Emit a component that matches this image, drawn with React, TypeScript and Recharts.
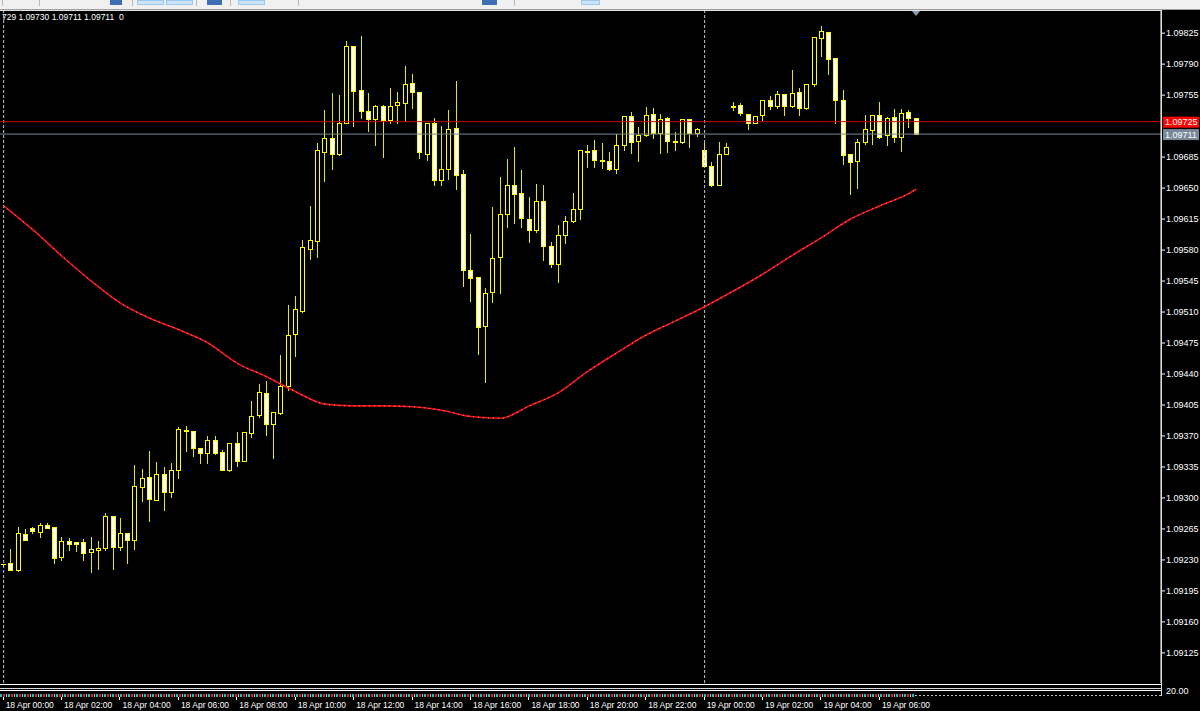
import React from 'react';
import { ComposedChart, Bar, Line, XAxis, YAxis, ReferenceLine } from 'recharts';

// EURUSD M15 candles, 18 Apr 00:00 .. 19 Apr 07:15
const opens = [
  1.09225, 1.09226, 1.09219, 1.09259, 1.09266, 1.09262, 1.0927, 1.09267, 1.09233, 1.09251,
  1.0925, 1.0925, 1.09239, 1.09241, 1.09243, 1.0928, 1.09245, 1.0926, 1.09253, 1.09312,
  1.09324, 1.09298, 1.09327, 1.09307, 1.09332, 1.09377, 1.09376, 1.09356, 1.09351, 1.09365,
  1.09352, 1.09332, 1.09362, 1.09342, 1.09373, 1.09394, 1.09419, 1.09384, 1.09396, 1.09426,
  1.09485, 1.09511, 1.09581, 1.0959, 1.09691, 1.09707, 1.09688, 1.09724, 1.09811, 1.09761,
  1.09737, 1.09728, 1.09743, 1.09727, 1.09744, 1.09746, 1.09769, 1.09759, 1.09689, 1.09723,
  1.09659, 1.09671, 1.09718, 1.09666, 1.09557, 1.09549, 1.09494, 1.09533, 1.09572, 1.09621,
  1.09653, 1.09644, 1.09615, 1.09603, 1.09635, 1.09585, 1.09564, 1.09597, 1.09613, 1.09626,
  1.09691, 1.09693, 1.09682, 1.09681, 1.09672, 1.09699, 1.09731, 1.09703, 1.0971, 1.09734,
  1.09712, 1.09729, 1.09703, 1.09702, 1.09728, 1.09712, 1.09693, 1.09675, 1.09654, 1.09688,
  1.09743, 1.09744, 1.09734, 1.09724, 1.09733, 1.09749, 1.09743, 1.09756, 1.09743, 1.09758,
  1.0974, 1.09767, 1.0982, 1.09826, 1.09797, 1.0975, 1.09689, 1.09681, 1.09702, 1.09716,
  1.09732, 1.0971, 1.0973, 1.09708, 1.09736, 1.09729,
];
const highs = [
  1.09227, 1.09243, 1.09268, 1.09266, 1.09268, 1.09273, 1.09273, 1.09268, 1.09257, 1.09256,
  1.0925, 1.09255, 1.09257, 1.09252, 1.09284, 1.0928, 1.09278, 1.09262, 1.09338, 1.09334,
  1.09354, 1.09342, 1.09336, 1.09341, 1.09381, 1.09382, 1.09377, 1.09357, 1.09371, 1.09371,
  1.09355, 1.09362, 1.09376, 1.09376, 1.09411, 1.0943, 1.09433, 1.09397, 1.09463, 1.09519,
  1.09529, 1.09593, 1.09631, 1.09702, 1.09739, 1.09758, 1.09756, 1.09817, 1.09812, 1.09823,
  1.09758, 1.09745, 1.09745, 1.09764, 1.0976, 1.09789, 1.0978, 1.09759, 1.09724, 1.0973,
  1.09721, 1.09739, 1.09772, 1.09671, 1.09599, 1.09549, 1.09538, 1.0963, 1.09664, 1.09684,
  1.09697, 1.09672, 1.09641, 1.09656, 1.09655, 1.0959, 1.09609, 1.0962, 1.09646, 1.09694,
  1.097, 1.09705, 1.09702, 1.09692, 1.09712, 1.09733, 1.09737, 1.0972, 1.09743, 1.09742,
  1.09735, 1.09731, 1.09714, 1.09729, 1.09728, 1.09719, 1.09702, 1.09681, 1.09703, 1.09702,
  1.09748, 1.09747, 1.09735, 1.09732, 1.09751, 1.09755, 1.09761, 1.09756, 1.09784, 1.09764,
  1.09769, 1.09822, 1.09834, 1.09827, 1.09797, 1.09762, 1.0969, 1.09706, 1.09734, 1.09734,
  1.09748, 1.09731, 1.09741, 1.09741, 1.09739, 1.0973,
];
const lows = [
  1.09223, 1.09219, 1.09218, 1.09252, 1.0926, 1.09256, 1.09266, 1.09227, 1.0923, 1.09241,
  1.0924, 1.0923, 1.09216, 1.0922, 1.09241, 1.0922, 1.09241, 1.09227, 1.09242, 1.09297,
  1.09274, 1.09298, 1.09286, 1.09301, 1.09323, 1.09353, 1.09347, 1.09339, 1.09339, 1.0935,
  1.09332, 1.09331, 1.09336, 1.09342, 1.09369, 1.09392, 1.09371, 1.09345, 1.09395, 1.09422,
  1.0946, 1.0951, 1.0957, 1.09572, 1.09658, 1.09672, 1.09687, 1.09723, 1.0972, 1.09729,
  1.09715, 1.09699, 1.09685, 1.09724, 1.09724, 1.09726, 1.0974, 1.09684, 1.09682, 1.09653,
  1.09653, 1.0966, 1.09649, 1.09539, 1.09522, 1.09463, 1.09431, 1.09521, 1.09532, 1.09606,
  1.09611, 1.09606, 1.09589, 1.096, 1.09569, 1.09561, 1.09544, 1.09588, 1.09612, 1.09615,
  1.09674, 1.09674, 1.09673, 1.0967, 1.09667, 1.09693, 1.0969, 1.09681, 1.09709, 1.09706,
  1.0969, 1.09691, 1.09693, 1.09701, 1.09696, 1.09709, 1.09675, 1.09652, 1.09654, 1.09688,
  1.09738, 1.09732, 1.09717, 1.09723, 1.09727, 1.09739, 1.09741, 1.09732, 1.09742, 1.09732,
  1.09739, 1.09765, 1.09799, 1.09779, 1.09723, 1.09677, 1.09643, 1.0965, 1.097, 1.097,
  1.09707, 1.09699, 1.09702, 1.09692, 1.09719, 1.09711,
];
const closes = [
  1.09225, 1.09219, 1.0926, 1.09253, 1.09263, 1.0927, 1.09266, 1.09232, 1.09251, 1.09248,
  1.09248, 1.09238, 1.09242, 1.09244, 1.0928, 1.09245, 1.0926, 1.09253, 1.09313, 1.09323,
  1.09299, 1.09327, 1.09307, 1.09332, 1.09378, 1.09376, 1.09356, 1.09351, 1.09365, 1.09351,
  1.09332, 1.09362, 1.09342, 1.09375, 1.09393, 1.0942, 1.09384, 1.09397, 1.09426, 1.09484,
  1.09513, 1.09583, 1.09591, 1.09693, 1.09707, 1.09688, 1.09724, 1.09811, 1.0976, 1.09737,
  1.09728, 1.09743, 1.09727, 1.09743, 1.09747, 1.09768, 1.09758, 1.09691, 1.09724, 1.09659,
  1.09672, 1.09717, 1.09665, 1.09558, 1.09548, 1.09493, 1.09532, 1.09571, 1.09621, 1.09653,
  1.09643, 1.09616, 1.09603, 1.09635, 1.09585, 1.09564, 1.09597, 1.09613, 1.09626, 1.09693,
  1.09692, 1.09682, 1.09681, 1.09672, 1.09699, 1.09731, 1.09702, 1.0971, 1.09733, 1.09712,
  1.09728, 1.09703, 1.09702, 1.09728, 1.09712, 1.09717, 1.09675, 1.09653, 1.09689, 1.09696,
  1.09742, 1.09735, 1.09724, 1.09731, 1.0975, 1.09743, 1.09756, 1.09743, 1.09757, 1.0974,
  1.09768, 1.09821, 1.09827, 1.09796, 1.09749, 1.09687, 1.0968, 1.09702, 1.09717, 1.09732,
  1.09708, 1.09729, 1.09708, 1.09735, 1.09729, 1.09711,
];

// moving average (red dotted line), read at every 4th bar
const maIdx = [0, 4, 8, 12, 16, 20, 24, 28, 32, 36, 40, 44, 48, 52, 56, 60, 64, 68, 72, 76, 80, 84, 88, 92, 96, 100, 104, 108, 112, 116, 120, 124, 125];
const maVals = [
  1.0963, 1.09603, 1.09573, 1.09545, 1.0952, 1.09503, 1.0949, 1.09475, 1.09452, 1.09437,
  1.0942, 1.09406, 1.09404, 1.09404, 1.09403, 1.09399, 1.09392, 1.0939, 1.09404, 1.09419,
  1.09443, 1.09464, 1.09484, 1.095, 1.09516, 1.09534, 1.09553, 1.09574, 1.09594, 1.09615,
  1.0963, 1.09644, 1.09649,
];

const timeLabels = [
  '18 Apr 00:00', '18 Apr 02:00', '18 Apr 04:00', '18 Apr 06:00', '18 Apr 08:00', '18 Apr 10:00',
  '18 Apr 12:00', '18 Apr 14:00', '18 Apr 16:00', '18 Apr 18:00', '18 Apr 20:00', '18 Apr 22:00',
  '19 Apr 00:00', '19 Apr 02:00', '19 Apr 04:00', '19 Apr 06:00',
];
const barsPerLabel = 8;

const yTicks = [
  1.09125, 1.0916, 1.09195, 1.0923, 1.09265, 1.093, 1.09335, 1.0937, 1.09405, 1.0944,
  1.09475, 1.0951, 1.09545, 1.0958, 1.09615, 1.0965, 1.09685, 1.09755, 1.0979, 1.09825,
];
const yDomain = [1.09091, 1.0985];
const askPrice = 1.09725;
const bidPrice = 1.09711;
const daySeparators = [0, 96];
const totalSlots = 159; // chart keeps empty space to the right of the last bar
const headerText = '729 1.09730 1.09711 1.09711  0';

const rows = Array.from({ length: totalSlots }, (_, i) => {
  const has = i < opens.length;
  const m = maIdx.indexOf(i);
  return {
    idx: i,
    o: has ? opens[i] : null,
    h: has ? highs[i] : null,
    l: has ? lows[i] : null,
    c: has ? closes[i] : null,
    range: has ? [lows[i], highs[i]] : null,
    ma: m >= 0 ? maVals[m] : null,
    t: i % barsPerLabel === 0 ? timeLabels[i / barsPerLabel] || '' : '',
  };
});

const FONT = '"Liberation Sans", Arial, sans-serif';
const YEL = '#ffff00';

const Candle = (props: any) => {
  const { x, y, width, height, payload } = props;
  if (!payload || payload.o == null) return null;
  const { o, h, l, c } = payload;
  const top = Math.min(y, y + height);
  const hgt = Math.abs(height);
  const span = h - l;
  const py = (v: number) => (span > 0 ? top + ((h - v) / span) * hgt : top);
  const cx = Math.round(x + width / 2 - 0.5) + 0.5;
  const yH = Math.round(py(h)) + 0.5;
  const yL = Math.round(py(l)) + 0.5;
  const bTop = Math.round(py(Math.max(o, c))) + 0.5;
  const bBot = Math.round(py(Math.min(o, c))) + 0.5;
  const bull = c > o;
  return (
    <g shapeRendering="crispEdges">
      <line x1={cx} x2={cx} y1={yH} y2={yL} stroke="#e8e800" strokeWidth={1} />
      {bBot - bTop < 1 ? (
        <line x1={cx - 2.5} x2={cx + 2.5} y1={bTop} y2={bTop} stroke={YEL} strokeWidth={1} />
      ) : (
        <rect x={cx - 2} y={bTop} width={4} height={bBot - bTop} fill={bull ? '#000' : '#fff'} stroke={YEL} strokeWidth={1} />
      )}
    </g>
  );
};

const TimeTick = (props: any) => {
  const { x, y, payload } = props;
  const row = rows[payload.value];
  if (!row || !row.t) return null;
  const tx = Math.round(x) - 0.5;
  return (
    <g>
      <line x1={tx} x2={tx} y1={y + 14} y2={y + 17} stroke="#fff" strokeWidth={1} shapeRendering="crispEdges" />
      <text x={x + 2} y={y + 25} fill="#fff" fontSize={8.5} fontFamily={FONT}>
        {row.t}
      </text>
    </g>
  );
};

const PriceTag = (color: string, text: string, textColor: string) => (props: any) => {
  const vb = props.viewBox || {};
  const x0 = (vb.x || 0) + (vb.width || 0) + 2;
  const yy = vb.y || 0;
  return (
    <g>
      <rect x={x0} y={yy - 5} width={36} height={11} fill={color} />
      <text x={x0 + 2} y={yy + 3.5} fill={textColor} fontSize={9} fontFamily={FONT}>
        {text}
      </text>
    </g>
  );
};

const toolbarBlocks = [
  { l: 110, w: 12, c: '#3d6fb5' },
  { l: 137, w: 27, c: '#cce4f7' },
  { l: 166, w: 27, c: '#cce4f7' },
  { l: 207, w: 15, c: '#3d6fb5' },
  { l: 238, w: 27, c: '#cce4f7' },
  { l: 482, w: 15, c: '#3d6fb5' },
  { l: 581, w: 19, c: '#cce4f7' },
];
const toolbarSeps = [2, 39, 132, 196, 230, 298, 514];

export default function App() {
  return (
    <div style={{ position: 'relative', width: 1200, height: 711, background: '#000', overflow: 'hidden' }}>
      <style>{`body{margin:0;background:#000}`}</style>
      <ComposedChart width={1200} height={711} data={rows} margin={{ top: 11, right: 0, bottom: 0, left: 0 }}>
        <XAxis
          dataKey="idx"
          type="category"
          height={28}
          interval={0}
          tickSize={0}
          tickMargin={0}
          axisLine={false}
          tickLine={false}
          tick={<TimeTick />}
        />
        <YAxis
          orientation="right"
          type="number"
          width={39}
          domain={yDomain}
          ticks={yTicks}
          interval={0}
          allowDataOverflow
          tickSize={4}
          tickMargin={1}
          tickLine={{ stroke: '#fff' }}
          axisLine={{ stroke: '#fff' }}
          tick={{ fill: '#fff', fontSize: 9, fontFamily: FONT }}
          tickFormatter={(v: number) => v.toFixed(5)}
        />
        {daySeparators.map((d) => (
          <ReferenceLine key={d} x={d} stroke="#c8c8c8" strokeDasharray="3 2" strokeWidth={1} />
        ))}
        <ReferenceLine y={bidPrice} stroke="#778899" strokeWidth={1} label={PriceTag('#778899', bidPrice.toFixed(5), '#ffffff')} />
        <ReferenceLine y={askPrice} stroke="#d00000" strokeWidth={1} label={PriceTag('#ff0000', askPrice.toFixed(5), '#ffffff')} />
        <Bar dataKey="range" barSize={5} shape={<Candle />} isAnimationActive={false} />
        <Line type="monotone" dataKey="ma" stroke="#f01010" strokeWidth={1.6} dot={false} connectNulls isAnimationActive={false} />
        <Line type="monotone" dataKey="ma" stroke="#ffa0a0" strokeWidth={1} strokeDasharray="1 4" dot={false} connectNulls isAnimationActive={false} />
      </ComposedChart>

      {/* toolbar strip */}
      <div style={{ position: 'absolute', left: 0, top: 0, width: 1200, height: 9, background: '#f0f0f0' }} />
      {toolbarBlocks.map((b, i) => (
        <div key={i} style={{ position: 'absolute', left: b.l, top: 0, width: b.w, height: 5, background: b.c, border: b.c === '#cce4f7' ? '1px solid #99c9ef' : 'none', boxSizing: 'border-box' }} />
      ))}
      {toolbarSeps.map((s, i) => (
        <div key={i} style={{ position: 'absolute', left: s, top: 0, width: 1, height: 6, background: '#b8b8b8' }} />
      ))}
      <div style={{ position: 'absolute', left: 0, top: 9, width: 1200, height: 1, background: '#a0a0a0' }} />
      <div style={{ position: 'absolute', left: 0, top: 10, width: 1162, height: 1, background: '#e0e0e0' }} />
      <div style={{ position: 'absolute', left: 1161, top: 10, width: 1, height: 686, background: '#e0e0e0' }} />
      {/* chart shift marker */}
      <div style={{ position: 'absolute', left: 912, top: 11, width: 0, height: 0, borderLeft: '4px solid transparent', borderRight: '4px solid transparent', borderTop: '5px solid #8c9cac' }} />
      {/* OHLC header text */}
      <div style={{ position: 'absolute', left: 2, top: 12, color: '#fff', fontFamily: FONT, fontSize: 8.5, lineHeight: '10px', whiteSpace: 'pre' }}>
        {headerText}
      </div>
      {/* indicator sub-window strip */}
      <div style={{ position: 'absolute', left: 0, top: 684, width: 1161, height: 1, background: '#ffffff' }} />
      <div style={{ position: 'absolute', left: 0, top: 688, width: 1161, height: 1, background: '#d8d8d8' }} />
      <div style={{ position: 'absolute', left: 0, top: 690, width: 1161, height: 1, background: '#ffffff' }} />
      <div style={{ position: 'absolute', left: 0, top: 694, width: 915, height: 3, background: 'repeating-linear-gradient(90deg,#20c0c0 0 2px,#000 2px 3px,#e02020 3px 5px,#000 5px 6px,#c0c0c0 6px 7px,#000 7px 8px)' }} />
      <div style={{ position: 'absolute', left: 915, top: 695, width: 246, height: 1, background: 'repeating-linear-gradient(90deg,#c0c0c0 0 2px,#000 2px 4px)' }} />
      <div style={{ position: 'absolute', left: 1166, top: 686, color: '#fff', fontFamily: FONT, fontSize: 9, lineHeight: '10px' }}>20.00</div>
    </div>
  );
}
